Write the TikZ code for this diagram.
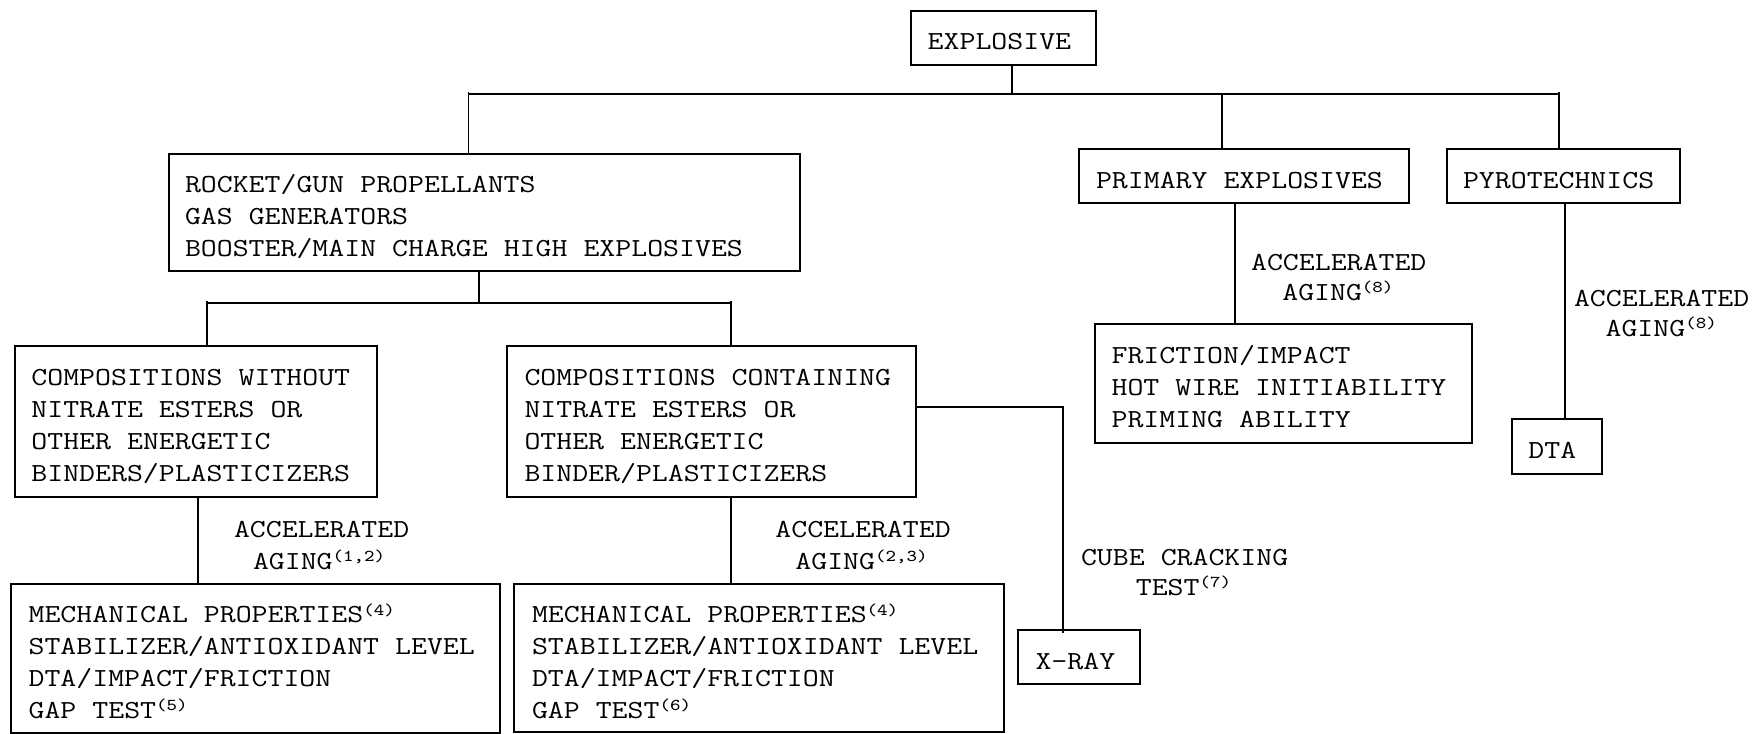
\documentclass[tikz,border=0pt]{standalone}
\usepackage{fontspec}
\setmainfont{Latin Modern Mono}[FakeStretch=1.19]
\newcommand\chartfont{\fontsize{13pt}{15.9pt}\selectfont}
\newcommand\lblfont{\fontsize{13pt}{15.2pt}\selectfont}
% a word space one character cell wide
\newcommand\wsp{\hspace*{8pt}}
\newcommand\supref[1]{\raisebox{3.8pt}{\fontsize{8.3pt}{8.3pt}\selectfont(#1)}}
\begin{document}
\begin{tikzpicture}[x=0.5pt,y=-0.5pt,
  box/.style={draw, line width=1pt, anchor=north west, align=left,
    inner ysep=0pt, text height=12pt, font=\chartfont},
  conn/.style={line width=0.9pt},
  lbl/.style={anchor=base west, inner sep=0pt, align=left,
    text width=110pt, font=\lblfont}]
\useasboundingbox (0,0) rectangle (1754,733);

% ---- boxes ----
\node[box, minimum width=92.5pt, minimum height=27pt, inner xsep=8.35pt,
  text width=75.8pt, text depth=0pt] (expl) at (910,10) {EXPLOSIVE};

\node[box, minimum width=315.7pt, minimum height=58.5pt, inner xsep=8.2pt,
  text width=299.3pt, text depth=31.8pt] (rocket) at (167.6,153)
  {ROCKET/GUN\wsp PROPELLANTS\\GAS\wsp GENERATORS\\BOOSTER/MAIN\wsp CHARGE\wsp HIGH\wsp EXPLOSIVES};

\node[box, minimum width=164.9pt, minimum height=27pt, inner xsep=8.65pt,
  text width=147.6pt, text depth=0pt] (primary) at (1077.7,148) {PRIMARY\wsp EXPLOSIVES};

\node[box, minimum width=116.7pt, minimum height=27pt, inner xsep=8.2pt,
  text width=100.3pt, text depth=0pt] (pyro) at (1445.6,148) {PYROTECHNICS};

\node[box, minimum width=181.1pt, minimum height=75.5pt, inner xsep=8.3pt,
  text width=164.5pt, text depth=47.7pt] (compwo) at (13.8,345)
  {COMPOSITIONS\wsp WITHOUT\\NITRATE\wsp ESTERS\wsp OR\\OTHER\wsp ENERGETIC\\BINDERS/PLASTICIZERS};

\node[box, minimum width=204.35pt, minimum height=75.5pt, inner xsep=8.6pt,
  text width=187.15pt, text depth=47.7pt] (compwith) at (506.3,345)
  {COMPOSITIONS\wsp CONTAINING\\NITRATE\wsp ESTERS\wsp OR\\OTHER\wsp ENERGETIC\\BINDER/PLASTICIZERS};

\node[box, minimum width=188.55pt, minimum height=59.2pt, inner xsep=8.35pt,
  text width=171.85pt, text depth=31.8pt] (prichild) at (1093.9,323.3)
  {FRICTION/IMPACT\\HOT\wsp WIRE\wsp INITIABILITY\\PRIMING\wsp ABILITY};

\node[box, minimum width=44.95pt, minimum height=27.5pt, inner xsep=8.35pt,
  text width=28.25pt, text depth=0pt] (dta) at (1510.7,418.3) {DTA};

\node[box, minimum width=244.55pt, minimum height=74.5pt, inner xsep=8.65pt,
  text width=227.25pt, text depth=47.4pt] (testsL) at (10.3,582.7)
  {MECHANICAL\wsp PROPERTIES\supref{4}\\STABILIZER/ANTIOXIDANT\wsp LEVEL\\DTA/IMPACT/FRICTION\\GAP\wsp TEST\supref{5}};

\node[box, minimum width=245.1pt, minimum height=73.85pt, inner xsep=9.2pt,
  text width=226.7pt, text depth=47.4pt] (testsM) at (512.6,583.3)
  {MECHANICAL\wsp PROPERTIES\supref{4}\\STABILIZER/ANTIOXIDANT\wsp LEVEL\\DTA/IMPACT/FRICTION\\GAP\wsp TEST\supref{6}};

\node[box, minimum width=61.1pt, minimum height=27pt, inner xsep=8.65pt,
  text width=43.8pt, text depth=0pt] (xray) at (1017.2,629.3) {X-RAY};

% ---- connector junctions ----
\coordinate (b1E) at (1012,94);
\coordinate (b1L) at (468.4,94);
\coordinate (b1M) at (1222,94);
\coordinate (b1R) at (1559,94);
\coordinate (b2C) at (478.8,302.7);
\coordinate (b2L) at (206.7,302.7);
\coordinate (b2R) at (730.8,302.7);
\coordinate (xL) at (198,0);
\coordinate (xP) at (1235,0);
\coordinate (xY) at (1565,0);
\coordinate (xk) at (1063.3,406.7);

% ---- connectors ----
\draw[conn] (expl.south -| b1E) -- (b1E);
\draw[conn] (b1L) -- (b1R);
\draw[conn] ([yshift=1pt]b1L) -- (rocket.north -| b1L);
\draw[conn] (b1M) -- (primary.north -| b1M);
\draw[conn] ([yshift=1pt]b1R) -- ([yshift=-1pt]pyro.north -| b1R);

\draw[conn] (rocket.south -| b2C) -- (b2C);
\draw[conn] (b2L) -- (b2R);
\draw[conn] ([yshift=1pt]b2L) -- (compwo.north -| b2L);
\draw[conn] ([yshift=1pt]b2R) -- (compwith.north -| b2R);

\draw[conn] (compwo.south -| xL) -- (testsL.north -| xL);
\draw[conn] (compwith.south -| b2R) -- (testsM.north -| b2R);
\draw[conn] (compwith.east |- xk) -- (xk) -- ([yshift=-2pt]xray.north -| xk);
\draw[conn] (primary.south -| xP) -- (prichild.north -| xP);
\draw[conn] (pyro.south -| xY) -- (dta.north -| xY);

% ---- connector labels ----
\node[lbl] (agL) at (233.6,537.3) {ACCELERATED\\[0.8pt]\hspace*{9.5pt}AGING\supref{1,2}};
\node[lbl] (agM) at (775,537) {ACCELERATED\\[0.8pt]\hspace*{10pt}AGING\supref{2,3}};
\node[lbl] (agP) at (1250.7,270) {ACCELERATED\\\hspace*{15.6pt}AGING\supref{8}};
\node[lbl] (agY) at (1573.6,306) {ACCELERATED\\\hspace*{15.8pt}AGING\supref{8}};
\node[lbl] (cube) at (1080.6,565) {CUBE\wsp CRACKING\\\hspace*{27.4pt}TEST\supref{7}};
\end{tikzpicture}
\end{document}
